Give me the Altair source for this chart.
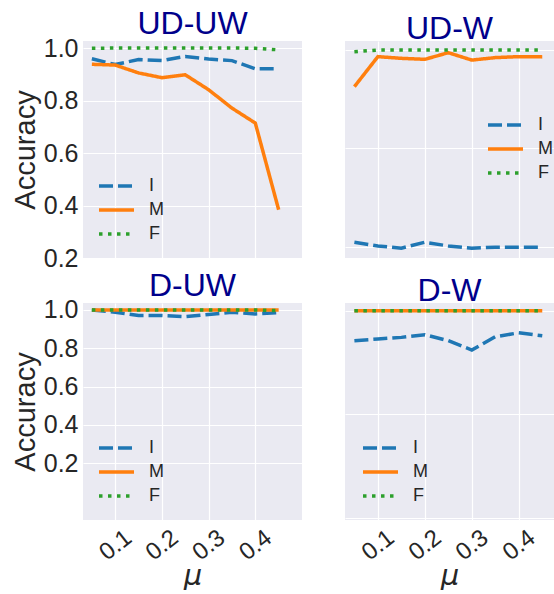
import altair as alt
import pandas as pd

# ---------------- data ----------------
mu = [0.05, 0.10, 0.15, 0.20, 0.25, 0.30, 0.35, 0.40, 0.45]
series = ["I", "M", "F"]
x_ticks = [0.1, 0.2, 0.3, 0.4]

ud_uw_I = [0.959, 0.937, 0.956, 0.952, 0.968, 0.958, 0.952, 0.921, 0.921]
ud_uw_M = [0.938, 0.935, 0.905, 0.887, 0.898, 0.841, 0.771, 0.714, 0.384]
ud_uw_F = [0.999, 1.000, 1.000, 1.000, 1.000, 1.000, 1.000, 0.999, 0.993]

ud_w_I = [0.219, 0.204, 0.195, 0.219, 0.204, 0.195, 0.199, 0.199, 0.199]
ud_w_M = [0.851, 0.973, 0.966, 0.962, 0.989, 0.959, 0.969, 0.973, 0.972]
ud_w_F = [0.993, 1.000, 1.000, 1.000, 1.000, 1.000, 1.000, 1.000, 1.000]

d_uw_I = [1.000, 0.988, 0.971, 0.971, 0.965, 0.976, 0.988, 0.979, 0.986]
d_uw_M = [1.000, 1.000, 1.000, 1.000, 1.000, 1.000, 1.000, 1.000, 1.000]
d_uw_F = [1.000, 1.000, 1.000, 1.000, 1.000, 1.000, 1.000, 1.000, 0.996]

d_w_I = [0.856, 0.864, 0.872, 0.885, 0.856, 0.811, 0.875, 0.894, 0.880]
d_w_M = [1.000, 1.000, 1.000, 1.000, 1.000, 1.000, 1.000, 1.000, 1.000]
d_w_F = [1.000, 1.000, 1.000, 1.000, 1.000, 1.000, 1.000, 1.000, 1.000]

titles = ["UD-UW", "UD-W", "D-UW", "D-W"]
left_ticks = [0.2, 0.4, 0.6, 0.8, 1.0]
ud_w_ticks = [0.2, 0.6, 1.0]
d_w_ticks = [0.0, 0.5, 1.0]

# ---------------- style ----------------
FONT = "Liberation Sans"
TXT = "#262626"
colors = ["#1f77b4", "#ff7f0e", "#2ca02c"]
dashes = [[14, 5], [1, 0], [3.5, 5.5]]


def panel(I, M, F, title, ydom, yticks, xdom, width, left, bottom, lx, ly):
    df = pd.DataFrame({
        "mu": mu * 3,
        "acc": I + M + F,
        "series": [s for s in series for _ in mu],
    })
    legend = alt.Legend(
        orient="none", legendX=lx, legendY=ly, title=None,
        symbolType="stroke", symbolSize=1225, symbolStrokeWidth=3.5,
        labelFontSize=18, labelFont=FONT, labelColor=TXT,
        clipHeight=22, rowPadding=2, labelOffset=13, padding=0,
    )
    xkw = dict(values=x_ticks, format=".1f", grid=True, domain=False, ticks=False,
               labelFlush=False, labelOverlap=False, minExtent=0)
    if bottom:
        xkw.update(labels=True, title="μ", labelAngle=322, labelAlign="center",
                   labelBaseline="middle", labelFontSize=24, labelFont=FONT,
                   labelColor=TXT, labelPadding=25, titleFontSize=29,
                   titleFontStyle="italic", titleFontWeight="normal",
                   titleFont="DejaVu Sans", titleColor=TXT,
                   titleY=55, titleBaseline="middle")
    else:
        xkw.update(labels=False, title=None, maxExtent=0)
    ykw = dict(values=yticks, grid=True, domain=False, ticks=False,
               labelOverlap=False, labelFlush=False, minExtent=0)
    if left:
        ykw.update(labels=True, title="Accuracy", format=".1f", labelFontSize=25,
                   labelFont=FONT, labelColor=TXT, labelPadding=5,
                   titleFontSize=29, titleFont=FONT, titleFontWeight="normal",
                   titleColor=TXT, titlePadding=3)
    else:
        ykw.update(labels=False, title=None, maxExtent=0)

    return alt.Chart(df).mark_line(strokeWidth=3.5, clip=True).encode(
        x=alt.X("mu:Q", scale=alt.Scale(domain=xdom, nice=False, zero=False),
                axis=alt.Axis(**xkw)),
        y=alt.Y("acc:Q", scale=alt.Scale(domain=ydom, nice=False, zero=False),
                axis=alt.Axis(**ykw)),
        color=alt.Color("series:N", scale=alt.Scale(domain=series, range=colors),
                        legend=legend),
        strokeDash=alt.StrokeDash("series:N", scale=alt.Scale(domain=series, range=dashes),
                                  legend=legend),
    ).properties(
        width=width, height=217,
        title=alt.Title(title, fontSize=32, color="#00008B", font=FONT,
                        fontWeight="normal", offset=-5, anchor="middle"),
    )


tl = panel(ud_uw_I, ud_uw_M, ud_uw_F, titles[0], [0.2, 1.0267], left_ticks,
           [0.031, 0.5], 219, True, False, 14, 134)
tr = panel(ud_w_I, ud_w_M, ud_w_F, titles[1], [0.155, 1.0365], ud_w_ticks,
           [0.03, 0.475], 209, False, False, 141, 73)
bl = panel(d_uw_I, d_uw_M, d_uw_F, titles[2], [-0.096, 1.036], left_ticks,
           [0.031, 0.5], 219, True, True, 14, 134)
br = panel(d_w_I, d_w_M, d_w_F, titles[3], [-0.01, 1.038], d_w_ticks,
           [0.03, 0.475], 209, False, True, 16, 134)

res = dict(color="independent", strokeDash="independent")
row1 = alt.hconcat(tl, tr, spacing=43).resolve_scale(**res).resolve_legend(**res)
row2 = alt.hconcat(bl, br, spacing=43).resolve_scale(**res).resolve_legend(**res)

chart = alt.vconcat(row1, row2, spacing=-2).resolve_scale(**res).resolve_legend(**res).properties(
    padding={"left": 11, "top": 8, "right": 0, "bottom": 0},
    background="white",
).configure_view(
    fill="#EAEAF2", strokeWidth=0,
).configure_axis(
    gridColor="white", gridWidth=1.2, gridOpacity=1,
)

chart.save("out.html", embed_options={"renderer": "svg", "actions": False})
